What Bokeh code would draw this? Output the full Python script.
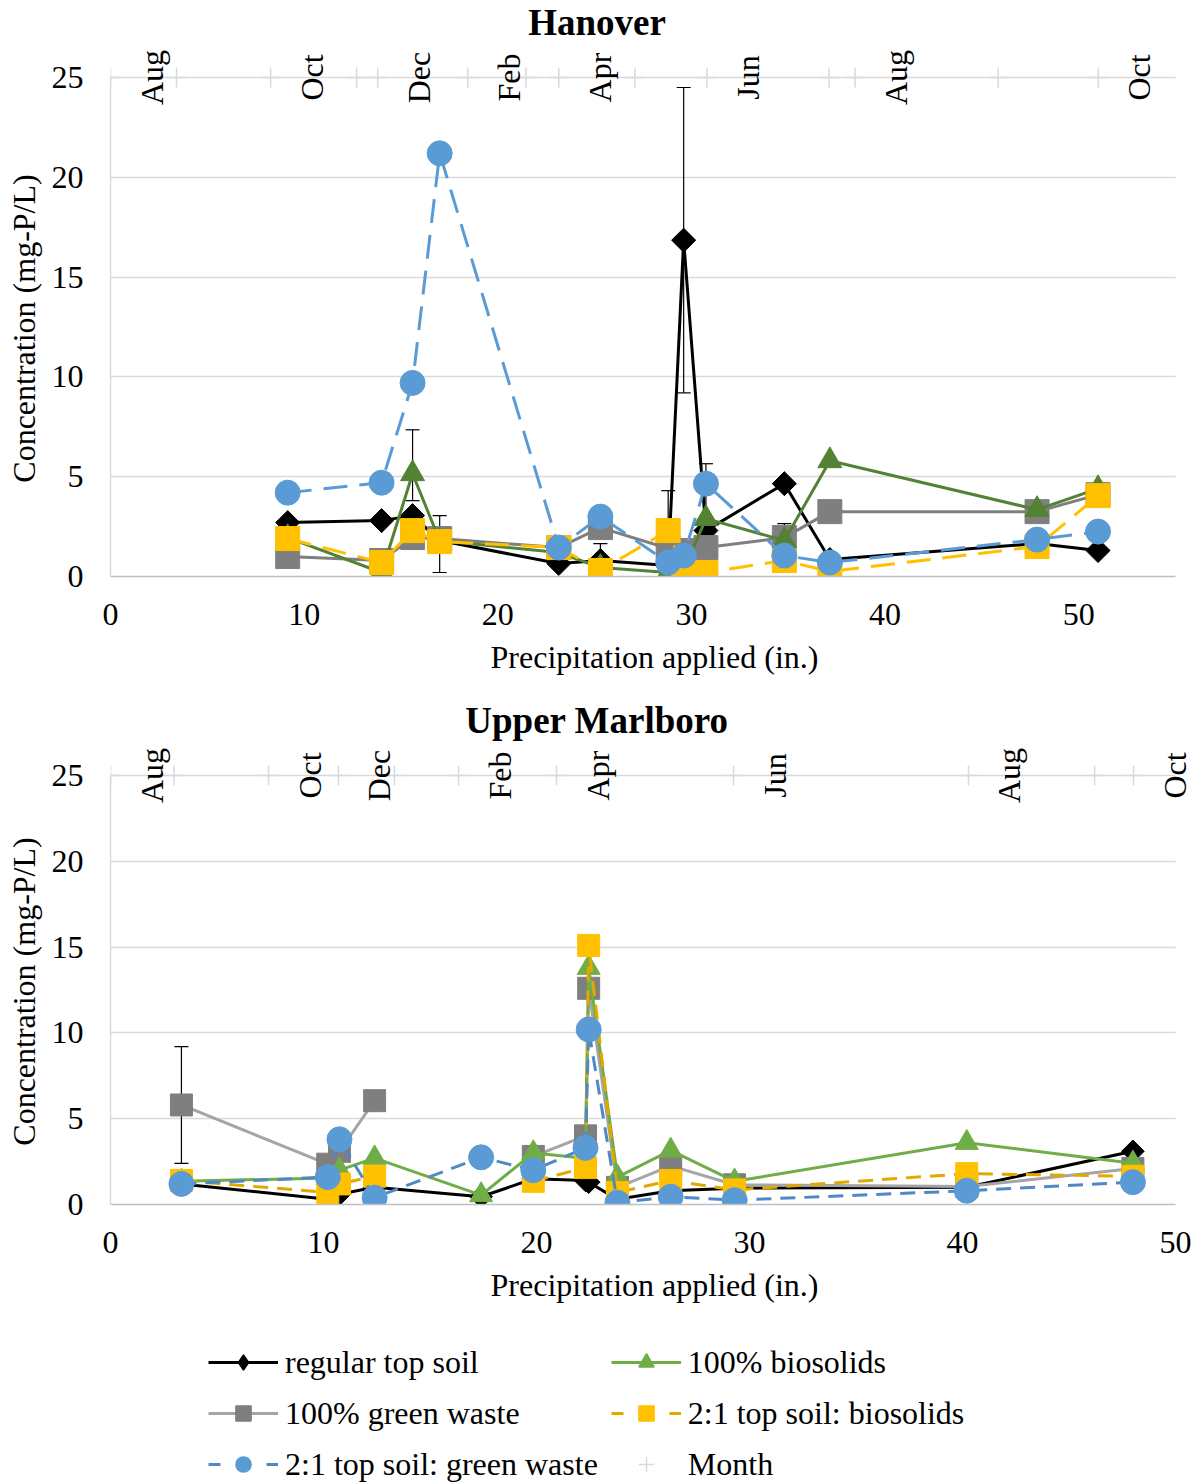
import math
import numpy as np
from bokeh.plotting import figure
from bokeh.models import (ColumnDataSource, FixedTicker, Label, Whisker,
                          TeeHead, Legend, LegendItem, Range1d)
from bokeh.layouts import column
from bokeh.embed import file_html
from bokeh.resources import INLINE

nan = float("nan")

# ---------------- Hanover ----------------
han_x = [9.15, 14.0, 15.6, 17.0, 23.15, 25.3, 28.8, 29.6, 30.75, 34.8, 37.15, 47.85, 51.0]
han_topsoil = [2.7, 2.8, 3.05, 1.8, 0.65, 0.8, 0.55, 16.85, 2.3, 4.65, 0.85, 1.65, 1.3]
han_greenwaste = [1.0, 0.8, 1.95, 1.9, 1.45, 2.45, 1.4, 1.3, 1.45, 1.95, 3.25, 3.25, 4.1]
han_biosolids = [1.95, 0.2, 5.15, 1.8, 1.2, 0.45, 0.2, 0.3, 2.9, 1.8, 5.8, 3.35, 4.4]
han_ts_bio = [1.9, 0.7, 2.3, 1.75, 1.45, 0.3, 2.3, 0.35, 0.2, 0.8, 0.25, 1.5, 4.05]
han_ts_gw = [4.2, 4.7, 9.7, 21.2, 1.45, 3.0, 0.7, 1.05, 4.65, 1.05, 0.7, 1.85, 2.25]
han_err_x = [15.6, 17.0, 29.6]
han_err_lo = [3.8, 0.2, 9.2]
han_err_hi = [7.35, 3.05, 24.5]
han_uerr_x = [25.3, 28.8, 30.75, 34.8]
han_uerr_lo = [0.8, 0.55, 2.3, 1.95]
han_uerr_hi = [1.65, 4.3, 5.65, 2.65]
han_month_x = [0.0, 3.41, 8.27, 12.71, 13.80, 18.45, 21.45, 23.15, 27.08, 30.80,
               37.11, 38.45, 45.84, 51.01]
han_month_y = [25] * len(han_month_x)
han_month_lbl = ["Aug", "", "Oct", "", "Dec", "Feb", "", "Apr", "", "Jun",
                 "", "Aug", "", "Oct"]

# ---------------- Upper Marlboro ----------------
um_x = [3.33, 10.2, 10.75, 12.4, 17.4, 19.85, 22.3, 22.45, 23.8, 26.3, 29.3, 40.2, 48.0]
um_topsoil = [1.2, 0.3, 0.6, 1.0, 0.45, 1.5, 1.4, 1.3, 0.3, 0.8, 0.95, 1.0, 3.1]
um_greenwaste = [5.8, 2.35, 3.1, 6.05, nan, 2.8, 4.0, 12.6, 1.0, 2.25, 1.15, 1.05, 2.1]
um_biosolids = [1.35, 1.55, 2.0, 2.7, 0.55, 3.0, 2.7, 13.8, 1.6, 3.15, 1.35, 3.6, 2.4]
um_ts_bio = [1.4, 0.7, 1.2, 1.65, nan, 1.35, 2.15, 15.1, 0.7, 1.4, 0.85, 1.8, 1.65]
um_ts_gw = [1.2, 1.6, 3.8, 0.4, 2.75, 2.0, 3.3, 10.2, 0.1, 0.45, 0.25, 0.8, 1.3]
um_err_x = [3.33]
um_err_lo = [2.4]
um_err_hi = [9.2]
um_month_x = [0.0, 2.98, 7.42, 10.70, 13.33, 16.34, 20.94, 29.25, 40.28, 46.2, 48.03]
um_month_y = [25] * len(um_month_x)
um_month_lbl = ["Aug", "", "Oct", "Dec", "", "Feb", "Apr", "Jun", "Aug", "", "Oct"]

x_ticks = [0, 10, 20, 30, 40, 50]
y_ticks = [0, 5, 10, 15, 20, 25]
Y_MAX = 25
FONT = "Liberation Serif"
FS = "32px"
Y_LABEL = "Concentration (mg-P/L)"
X_LABEL = "Precipitation applied (in.)"

BLACK = "#000000"
GRAY_M = "#7F7F7F"
GRAY_L = "#A5A5A5"
GREEN_TOP = "#548235"
GREEN_BOT = "#70AD47"
YEL_M = "#FFC000"
YEL_L = "#E2A800"
BLUE_M = "#5B9BD5"
BLUE_L = "#4F88C6"
MONTH_C = "#D9D9D9"

W = 1198
LEFT_B = 110
AXIS_W = 1065          # pixel width of the 0..xmax span
RIGHT_EXTRA = W - LEFT_B - AXIS_W   # frame extends to the page edge so labels are not clipped


def make_fig(title, xmax, height, top_pad, bot_b, title_off):
    frame_h = height - bot_b
    y_top = Y_MAX * frame_h / (frame_h - top_pad)
    x_end = xmax * (AXIS_W + RIGHT_EXTRA) / AXIS_W
    p = figure(width=W, height=height, x_range=Range1d(0, x_end), y_range=Range1d(0, y_top),
               output_backend="svg", toolbar_location=None,
               min_border_left=LEFT_B, min_border_right=0,
               min_border_top=0, min_border_bottom=bot_b)
    p.outline_line_color = None
    p.xgrid.grid_line_color = None
    p.ygrid.grid_line_color = "#D9D9D9"
    p.ygrid.grid_line_width = 1.5
    try:
        p.ygrid.cross_bounds = (0, xmax)
    except Exception:
        pass

    p.xaxis.ticker = FixedTicker(ticks=x_ticks)
    p.yaxis.ticker = FixedTicker(ticks=y_ticks)
    p.yaxis.bounds = (0, Y_MAX)
    p.xaxis.bounds = (0, xmax)
    for ax in (p.xaxis, p.yaxis):
        ax.major_tick_line_color = None
        ax.minor_tick_line_color = None
        ax.major_tick_in = 0
        ax.major_tick_out = 0
        ax.major_label_text_font = FONT
        ax.major_label_text_font_size = FS
        ax.major_label_text_color = "black"
        ax.axis_label_text_font = FONT
        ax.axis_label_text_font_size = FS
        ax.axis_label_text_font_style = "normal"
        ax.axis_label_text_color = "black"
    p.xaxis.axis_line_color = "#BFBFBF"
    p.xaxis.axis_line_width = 1.5
    p.yaxis.axis_line_color = "#D9D9D9"
    p.yaxis.axis_line_width = 1.5
    p.xaxis.axis_label = X_LABEL
    # trailing no-break spaces centre the visible label on the 0..25 span
    p.yaxis.axis_label = Y_LABEL + "\u00a0" * 10
    p.xaxis.major_label_standoff = 27
    p.xaxis.axis_label_standoff = 11
    p.yaxis.major_label_standoff = 27
    p.yaxis.axis_label_standoff = 7

    p.add_layout(Label(x=xmax / 2, y=Y_MAX, x_offset=-46, y_offset=title_off, text=title,
                       text_font=FONT, text_font_size="37px", text_font_style="bold",
                       text_color="black", text_align="center", text_baseline="alphabetic"))
    return p


def add_months(p, xs, ys, labels):
    src = ColumnDataSource(dict(x=xs, y=ys))
    p.scatter("x", "y", source=src, marker="cross", size=20, line_color=MONTH_C,
              line_width=1.5)
    for x, y, t in zip(xs, ys, labels):
        if t:
            p.add_layout(Label(x=x, y=y, x_offset=41, text=t, angle=math.pi / 2,
                               text_font=FONT, text_font_size=FS, text_color="black",
                               text_align="center", text_baseline="middle"))


def add_err(p, xs, lo, hi, lower_head=True):
    src = ColumnDataSource(dict(base=xs, lower=lo, upper=hi))
    w = Whisker(source=src, base="base", lower="lower", upper="upper",
                line_color="black", line_width=1.2,
                upper_head=TeeHead(size=14, line_color="black", line_width=1.2),
                lower_head=TeeHead(size=14, line_color="black", line_width=1.2) if lower_head else None)
    p.add_layout(w)


def add_series(p, xs, ys, line_color, mcolor, marker, size, dash="solid", angle=0.0):
    src = ColumnDataSource(dict(x=np.array(xs, dtype=float), y=np.array(ys, dtype=float)))
    p.line("x", "y", source=src, line_color=line_color, line_width=3, line_dash=dash)
    p.scatter("x", "y", source=src, marker=marker, size=size, fill_color=mcolor,
              line_color=mcolor, angle=angle)


# ---- Hanover figure ----
p1 = make_fig("Hanover", 55, 698, 77, 122, 55)
add_months(p1, han_month_x, han_month_y, han_month_lbl)
add_err(p1, han_err_x, han_err_lo, han_err_hi, True)
add_err(p1, han_uerr_x, han_uerr_lo, han_uerr_hi, False)
add_series(p1, han_x, han_topsoil, BLACK, BLACK, "square", 17, angle=math.pi / 4)
add_series(p1, han_x, han_greenwaste, GRAY_M, GRAY_M, "square", 24)
add_series(p1, han_x, han_biosolids, GREEN_TOP, GREEN_TOP, "triangle", 24)
add_series(p1, han_x, han_ts_bio, YEL_M, YEL_M, "square", 24, dash="24 12")
add_series(p1, han_x, han_ts_gw, BLUE_M, BLUE_M, "circle", 25, dash="24 12")

# ---- Upper Marlboro figure ----
p2 = make_fig("Upper Marlboro", 50, 622, 77, 116, 55)
add_months(p2, um_month_x, um_month_y, um_month_lbl)
add_err(p2, um_err_x, um_err_lo, um_err_hi, True)
add_series(p2, um_x, um_topsoil, BLACK, BLACK, "square", 16, angle=math.pi / 4)
add_series(p2, um_x, um_greenwaste, GRAY_L, GRAY_M, "square", 22)
add_series(p2, um_x, um_biosolids, GREEN_BOT, GREEN_BOT, "triangle", 23)
add_series(p2, um_x, um_ts_bio, YEL_L, YEL_M, "square", 22, dash="15 9")
add_series(p2, um_x, um_ts_gw, BLUE_L, BLUE_M, "circle", 25, dash="15 9")

# ---- Legend figure ----
leg = figure(width=W, height=163, x_range=Range1d(0, 1), y_range=Range1d(0, 1),
             output_backend="svg", toolbar_location=None,
             min_border_left=LEFT_B, min_border_top=23, min_border_right=0, min_border_bottom=0,
             x_axis_location=None, y_axis_location=None)
leg.grid.visible = False
leg.outline_line_color = None


def dummy(line_color, mcolor, marker, dash="solid", angle=0.0, with_line=True):
    src = ColumnDataSource(dict(x=[nan], y=[nan]))
    rs = []
    if with_line:
        rs.append(leg.line("x", "y", source=src, line_color=line_color, line_width=3,
                           line_dash=dash))
    rs.append(leg.scatter("x", "y", source=src, marker=marker, fill_color=mcolor,
                          line_color=mcolor, angle=angle, line_width=1.5))
    return rs


series_names = ["regular top soil", "100% biosolids", "100% green waste",
                "2:1 top soil: biosolids", "2:1 top soil: green waste", "Month"]
items = [
    LegendItem(label=series_names[0], renderers=dummy(BLACK, BLACK, "diamond")),
    LegendItem(label=series_names[1], renderers=dummy(GREEN_BOT, GREEN_BOT, "triangle")),
    LegendItem(label=series_names[2], renderers=dummy(GRAY_L, GRAY_M, "square")),
    LegendItem(label=series_names[3], renderers=dummy(YEL_L, YEL_M, "square", dash="12 46")),
    LegendItem(label=series_names[4], renderers=dummy(BLUE_L, BLUE_M, "circle", dash="12 46")),
    LegendItem(label=series_names[5], renderers=dummy(MONTH_C, MONTH_C, "cross", with_line=False)),
]
legend = Legend(items=items, location=(98, 0), orientation="horizontal", ncols=2,
                glyph_width=70, glyph_height=38, label_height=38, label_standoff=7,
                spacing=13, padding=0, margin=0, border_line_color=None,
                background_fill_alpha=0, label_text_font=FONT, label_text_font_size=FS,
                label_text_color="black")
leg.add_layout(legend)

layout = column(p1, p2, leg, spacing=0)
with open("out.html", "w") as f:
    f.write(file_html(layout, INLINE))
